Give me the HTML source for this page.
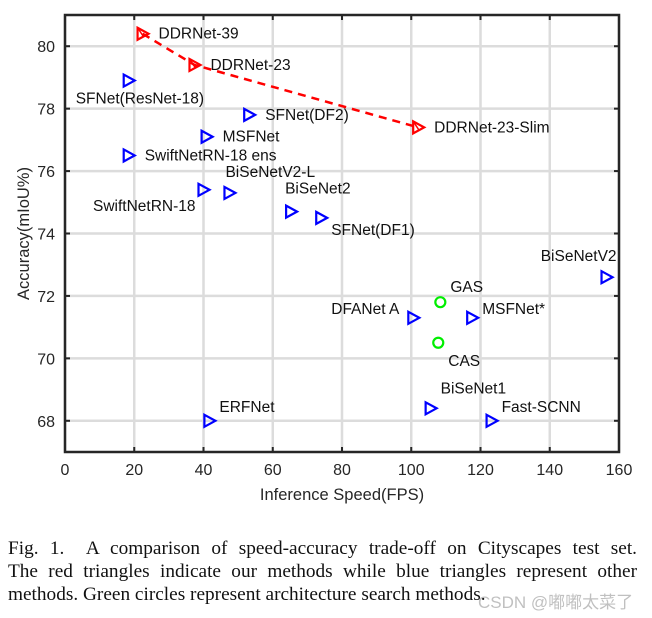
<!DOCTYPE html>
<html><head><meta charset="utf-8"><style>
body{margin:0;background:#fff;width:652px;height:618px;overflow:hidden}
#cap{position:absolute;left:8px;top:538px;width:629px;font-family:"Liberation Serif",serif;font-size:19.3px;line-height:22.8px;color:#111}
#cap div{text-align:justify;text-align-last:justify;white-space:nowrap}
#cap div.last{text-align-last:left}
#wm{position:absolute;left:478px;top:588px;font-family:"Liberation Sans","Noto Sans CJK SC",sans-serif;font-size:17px;color:rgba(150,150,150,0.6)}
</style></head><body>
<svg id="chart" width="652" height="530" style="position:absolute;left:0;top:0" font-family="Liberation Sans, sans-serif"></svg>
<div id="cap">
<div>Fig. 1.&nbsp; A comparison of speed-accuracy trade-off on Cityscapes test set.</div>
<div>The red triangles indicate our methods while blue triangles represent other</div>
<div class="last">methods. Green circles represent architecture search methods.</div>
</div>
<div id="wm">CSDN @嘟嘟太菜了</div>
<script>
const xTicks=[0,20,40,60,80,100,120,140,160];
const yTicks=[68,70,72,74,76,78,80];
const redNames=["DDRNet-39","DDRNet-23","DDRNet-23-Slim"];
const redX=[22.4,37.4,102];
const redY=[80.4,79.4,77.4];
const blueNames=["SFNet(ResNet-18)","SFNet(DF2)","MSFNet","SwiftNetRN-18 ens","SwiftNetRN-18","BiSeNetV2-L","BiSeNet2","SFNet(DF1)","BiSeNetV2","DFANet A","MSFNet*","BiSeNet1","Fast-SCNN","ERFNet"];
const blueX=[18.4,53.2,40.9,18.4,40,47.5,65.3,74,156.4,100.6,117.6,105.6,123.2,41.7];
const blueY=[78.9,77.8,77.1,76.5,75.4,75.3,74.7,74.5,72.6,71.3,71.3,68.4,68.0,68.0];
const greenNames=["GAS","CAS"];
const greenX=[108.4,107.8];
const greenY=[71.8,70.5];
const redLab=[[16,5,"start"],[16,5,"start"],[16,5,"start"]];
const blueLab=[[-53,23,"start"],[16,5,"start"],[16,5,"start"],[16,5,"start"],[-8,21,"end"],[-4,-16,"start"],[-6,-18,"start"],[10,17,"start"],[10,-16,"end"],[-14,-4,"end"],[10,-4,"start"],[10,-15,"start"],[10,-9,"start"],[10,-9,"start"]];
const greenLab=[[10,-10,"start"],[10,23,"start"]];
const L=65,R=619,T=15,B=452,X0=0,X1=160,Y0=67,Y1=81;
const sx=v=>L+(v-X0)/(X1-X0)*(R-L);
const sy=v=>B-(v-Y0)/(Y1-Y0)*(B-T);
const svg=document.getElementById('chart');
const NS="http://www.w3.org/2000/svg";
function mk(t,a,p){const e=document.createElementNS(NS,t);for(const k in a)e.setAttribute(k,a[k]);(p||svg).appendChild(e);return e;}
xTicks.forEach(v=>{
 const g=mk('line',{x1:sx(v),x2:sx(v),y1:T,y2:B,stroke:'#dcdcdc','stroke-width':2.5});
 
 
 mk('line',{x1:sx(v),x2:sx(v),y1:B,y2:B-5,stroke:'#262626','stroke-width':2});
 mk('line',{x1:sx(v),x2:sx(v),y1:T,y2:T+5,stroke:'#262626','stroke-width':2});
 const t=mk('text',{x:sx(v),y:B+23,'text-anchor':'middle','font-size':16,fill:'#262626'});t.textContent=v;
 
 
});
yTicks.forEach(v=>{
 const g=mk('line',{x1:L,x2:R,y1:sy(v),y2:sy(v),stroke:'#dcdcdc','stroke-width':2.5});
 
 
 mk('line',{x1:L,x2:L+5,y1:sy(v),y2:sy(v),stroke:'#262626','stroke-width':2});
 mk('line',{x1:R,x2:R-5,y1:sy(v),y2:sy(v),stroke:'#262626','stroke-width':2});
 const t=mk('text',{x:L-10,y:sy(v)+6,'text-anchor':'end','font-size':16,fill:'#262626'});t.textContent=v;
 
 
});
const fr=mk('rect',{x:L,y:T,width:R-L,height:B-T,fill:'none',stroke:'#262626','stroke-width':2.5});


const xt=mk('text',{x:(L+R)/2,y:500,'text-anchor':'middle','font-size':16.5,fill:'#262626'});xt.textContent='Inference Speed(FPS)';


const yt=mk('text',{x:0,y:0,transform:`translate(29,${(T+B)/2}) rotate(-90)`,'text-anchor':'middle','font-size':16.5,fill:'#262626'});yt.textContent='Accuracy(mIoU%)';


const ln=mk('polyline',{points:redX.map((v,i)=>sx(v)+','+sy(redY[i])).join(' '),fill:'none',stroke:'#ff0000','stroke-width':2.5,'stroke-dasharray':'8,6'});


function tri(x,y,c){return mk('polygon',{points:`${x-5},${y-6} ${x+6},${y} ${x-5},${y+6}`,fill:'none',stroke:c,'stroke-width':2.2});}
function lab(x,y,o,s){const t=mk('text',{x:x+o[0],y:y+o[1],'text-anchor':o[2],'font-size':15.5,fill:'#111'});t.textContent=s;return t;}
redX.forEach((v,i)=>{const x=sx(v),y=sy(redY[i]);
 const p=tri(x,y,'#ff0000');
 
 
 mk('polyline',{points:`${x-5},${y-6} ${x+1},${y+3}`,fill:'none',stroke:'#ff0000','stroke-width':1.5});
 const t=lab(x,y,redLab[i],redNames[i]);
 
 
});
blueX.forEach((v,i)=>{const x=sx(v),y=sy(blueY[i]);
 const p=tri(x,y,'#0000ff');
 
 
 const t=lab(x,y,blueLab[i],blueNames[i]);
 
 
});
greenX.forEach((v,i)=>{const x=sx(v),y=sy(greenY[i]);
 const p=mk('circle',{cx:x,cy:y,r:5,fill:'none',stroke:'#00ee00','stroke-width':2.2});
 
 
 const t=lab(x,y,greenLab[i],greenNames[i]);
 
 
});
</script>
</body></html>
